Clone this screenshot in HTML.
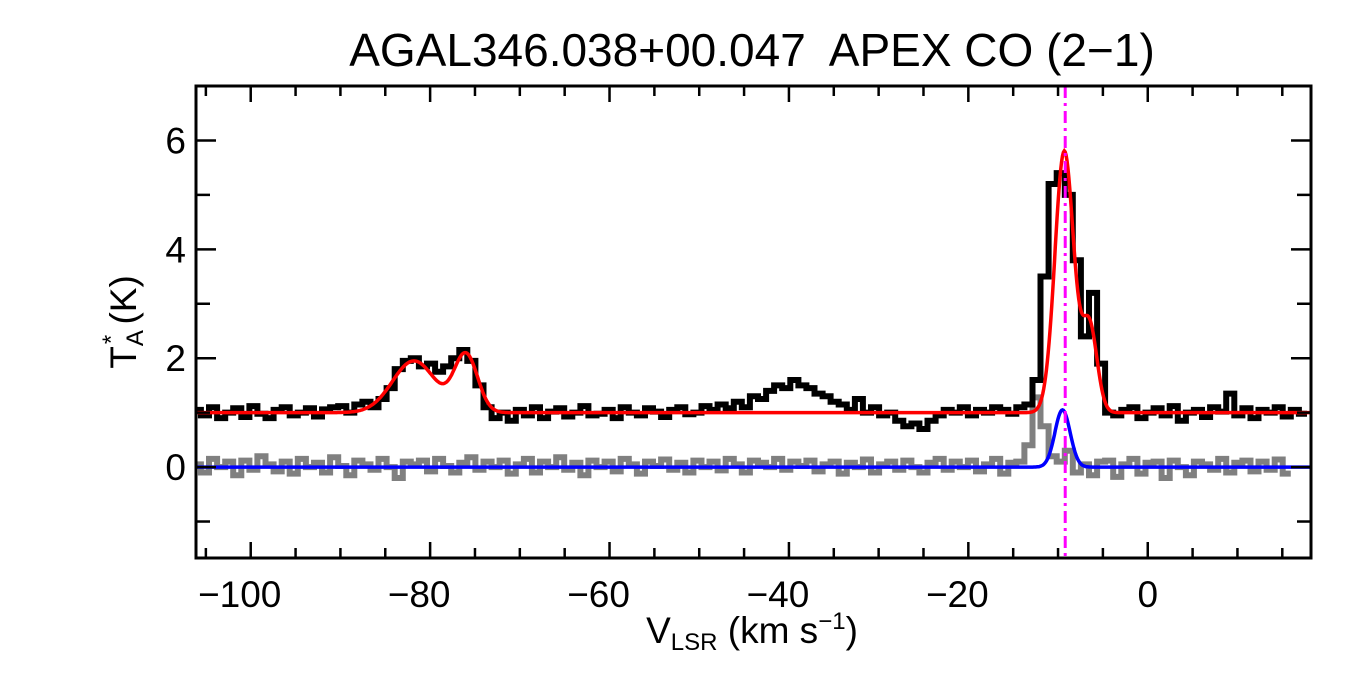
<!DOCTYPE html>
<html><head><meta charset="utf-8"><style>
body{margin:0;background:#fff;}
svg{display:block;font-family:"Liberation Sans",sans-serif;}
</style></head><body>
<svg id="chart" width="1350" height="675" viewBox="0 0 1350 675" xmlns="http://www.w3.org/2000/svg">
<rect width="1350" height="675" fill="#fff"/>
<text x="752" y="66" font-size="46" text-anchor="middle" xml:space="preserve">AGAL346.038+00.047  APEX CO (2−1)</text>
<g id="plot"></g>
<g id="axes"></g>
<text x="752" y="643" font-size="37" text-anchor="middle">V<tspan font-size="24" dy="7">LSR</tspan><tspan dy="-7"> (km s</tspan><tspan font-size="24" dy="-14">−1</tspan><tspan dy="14">)</tspan></text>
<text transform="translate(136,322) rotate(-90)" font-size="37" text-anchor="middle">T<tspan font-size="24" dy="7">A</tspan><tspan font-size="24" dx="-14" dy="-24">*</tspan><tspan dy="17"> (K)</tspan></text>
</svg>
<script>
const v0 = -106, dv = 0.9;
const dataBlack = [1.05,0.95,1.1,0.9,1.0,1.08,0.92,1.12,0.98,0.9,1.05,1.1,0.95,1.0,1.08,0.93,1.06,1.1,
1.12,1.0,1.15,1.2,1.1,1.25,
1.45,1.8,1.95,2.0,1.85,1.9,1.75,1.85,2.0,2.15,1.95,1.5,1.1,0.9,
1.0,0.85,1.05,0.95,1.1,0.9,1.02,1.08,0.93,1.0,1.12,0.95,0.98,1.05,0.9,1.1,1.0,0.95,1.08,1.02,0.92,1.05,1.1,0.97,1.0,1.12,1.05,1.15,1.08,
1.2,1.1,1.3,1.25,1.4,1.5,1.45,1.6,1.5,1.45,1.35,1.3,1.2,1.15,1.05,1.25,1.0,1.1,0.95,1.0,0.85,0.75,0.8,0.7,0.85,0.95,1.05,1.0,1.1,0.95,1.05,1.0,1.1,1.05,0.98,1.1,1.15,
1.6,3.5,5.2,5.4,5.0,3.8,2.4,3.2,1.9,1.0,0.95,
1.05,1.1,0.9,1.0,1.08,0.95,1.12,0.85,1.0,1.05,0.92,1.1,1.02,1.35,0.95,1.08,0.9,1.05,1.0,1.1,0.93,1.05,0.98];
const dataGray = [0.05,-0.1,0.15,0.0,0.1,-0.15,0.12,-0.05,0.2,0.05,-0.08,0.1,-0.12,0.15,0.0,0.08,-0.1,0.18,
0.02,-0.15,0.12,0.05,-0.05,0.15,0.0,-0.2,0.1,0.05,0.12,-0.08,0.15,0.02,-0.1,0.08,0.18,-0.05,0.1,0.0,
0.12,-0.12,0.05,0.15,-0.1,0.1,0.0,0.18,-0.05,0.08,-0.15,0.12,0.0,0.1,-0.08,0.15,0.05,-0.12,0.1,0.02,0.14,-0.05,0.08,-0.1,0.12,0.0,0.1,-0.06,0.15,
0.05,-0.1,0.12,0.08,0.0,0.15,-0.05,0.1,0.02,0.12,-0.08,0.05,0.1,-0.12,0.08,0.0,0.14,-0.1,0.05,0.1,-0.05,0.12,0.0,-0.1,0.08,0.15,-0.05,0.1,0.0,0.12,-0.08,0.05,0.15,-0.12,0.08,
0.1,0.4,1.28,0.75,0.2,0.1,0.3,-0.1,0.05,-0.15,0.1,
0.12,-0.18,0.05,0.15,-0.12,0.08,0.1,-0.2,0.12,0.0,-0.15,0.1,0.05,-0.05,0.15,-0.1,0.08,0.12,-0.08,0.1,-0.05,0.14,-0.12];
const redAmps = [0.95,1.05,4.8,1.6], redCenters = [-81.8,-76.0,-9.3,-6.5], redSigmas = [2.4,1.3,1.05,0.85];
const redOffset = 1.0;
const blueAmps = [1.05], blueCenters = [-9.5], blueSigmas = [0.85];
const markerV = -9.2;
const xTicks = [-100,-80,-60,-40,-20,0];
const yTicks = [0,2,4,6];

const X0=196,X1=1311,Y0=86,Y1=558, xmin=-106.1,xmax=18.2,ymin=-1.67,ymax=7.0;
const sx=v=>X0+(v-xmin)/(xmax-xmin)*(X1-X0);
const sy=t=>Y1-(t-ymin)/(ymax-ymin)*(Y1-Y0);
const NS='http://www.w3.org/2000/svg';
const plot=document.getElementById('plot'), axes=document.getElementById('axes');
function mk(tag,attrs,parent){const e=document.createElementNS(NS,tag);for(const k in attrs)e.setAttribute(k,attrs[k]);parent.appendChild(e);return e;}
const cp=mk('clipPath',{id:'clip'},plot);
mk('rect',{x:X0,y:Y0,width:X1-X0,height:Y1-Y0},cp);
function stepPath(arr){let d='';arr.forEach((t,i)=>{const a=sx(v0+dv*(i-0.5)),b=sx(v0+dv*(i+0.5)),y=sy(t);d+=(i?'L':'M')+a.toFixed(1)+','+y.toFixed(1)+'L'+b.toFixed(1)+','+y.toFixed(1);});return d;}
function gauss(amps,cs,ss,off){let d='';for(let v=xmin;v<=xmax;v+=0.1){let t=off;amps.forEach((a,k)=>t+=a*Math.exp(-0.5*((v-cs[k])/ss[k])**2));d+=(d?'L':'M')+sx(v).toFixed(1)+','+sy(t).toFixed(1);}return d;}
const g=mk('g',{'clip-path':'url(#clip)'},plot);


let p=mk('path',{d:stepPath(dataGray),fill:'none',stroke:'#808080','stroke-width':6},g);


p=mk('path',{d:stepPath(dataBlack),fill:'none',stroke:'#000','stroke-width':6},g);


p=mk('path',{d:gauss(redAmps,redCenters,redSigmas,redOffset),fill:'none',stroke:'#ff0000','stroke-width':3.5},g);


p=mk('path',{d:gauss(blueAmps,blueCenters,blueSigmas,0),fill:'none',stroke:'#0000ff','stroke-width':3.5},g);


p=mk('line',{x1:sx(markerV),x2:sx(markerV),y1:Y0,y2:Y1,stroke:'#ff00ff','stroke-width':3,'stroke-dasharray':'12 5 3 5'},g);


p=mk('rect',{x:X0,y:Y0,width:X1-X0,height:Y1-Y0,fill:'none',stroke:'#000','stroke-width':3},axes);


for(let v=-105;v<=15;v+=5){const maj=v%20===0;const L=maj?16:10;
 mk('line',{x1:sx(v),x2:sx(v),y1:Y1,y2:Y1-L,stroke:'#000','stroke-width':2.5},axes);
 mk('line',{x1:sx(v),x2:sx(v),y1:Y0,y2:Y0+L,stroke:'#000','stroke-width':2.5},axes);}
for(let t=-1;t<=6;t+=1){const L=t%2===0?20:14;
 mk('line',{x1:X0,x2:X0+L,y1:sy(t),y2:sy(t),stroke:'#000','stroke-width':2.5},axes);
 mk('line',{x1:X1,x2:X1-L,y1:sy(t),y2:sy(t),stroke:'#000','stroke-width':2.5},axes);}
xTicks.forEach(v=>{const t=mk('text',{x:sx(v)-(v<0?11:0),y:607,'font-size':37,'text-anchor':'middle'},axes);t.textContent=v<0?'−'+(-v):String(v);
 
 });
yTicks.forEach(v=>{const t=mk('text',{x:186,y:sy(v)+13,'font-size':37,'text-anchor':'end'},axes);t.textContent=String(v);
 
 });
</script>
</body></html>
